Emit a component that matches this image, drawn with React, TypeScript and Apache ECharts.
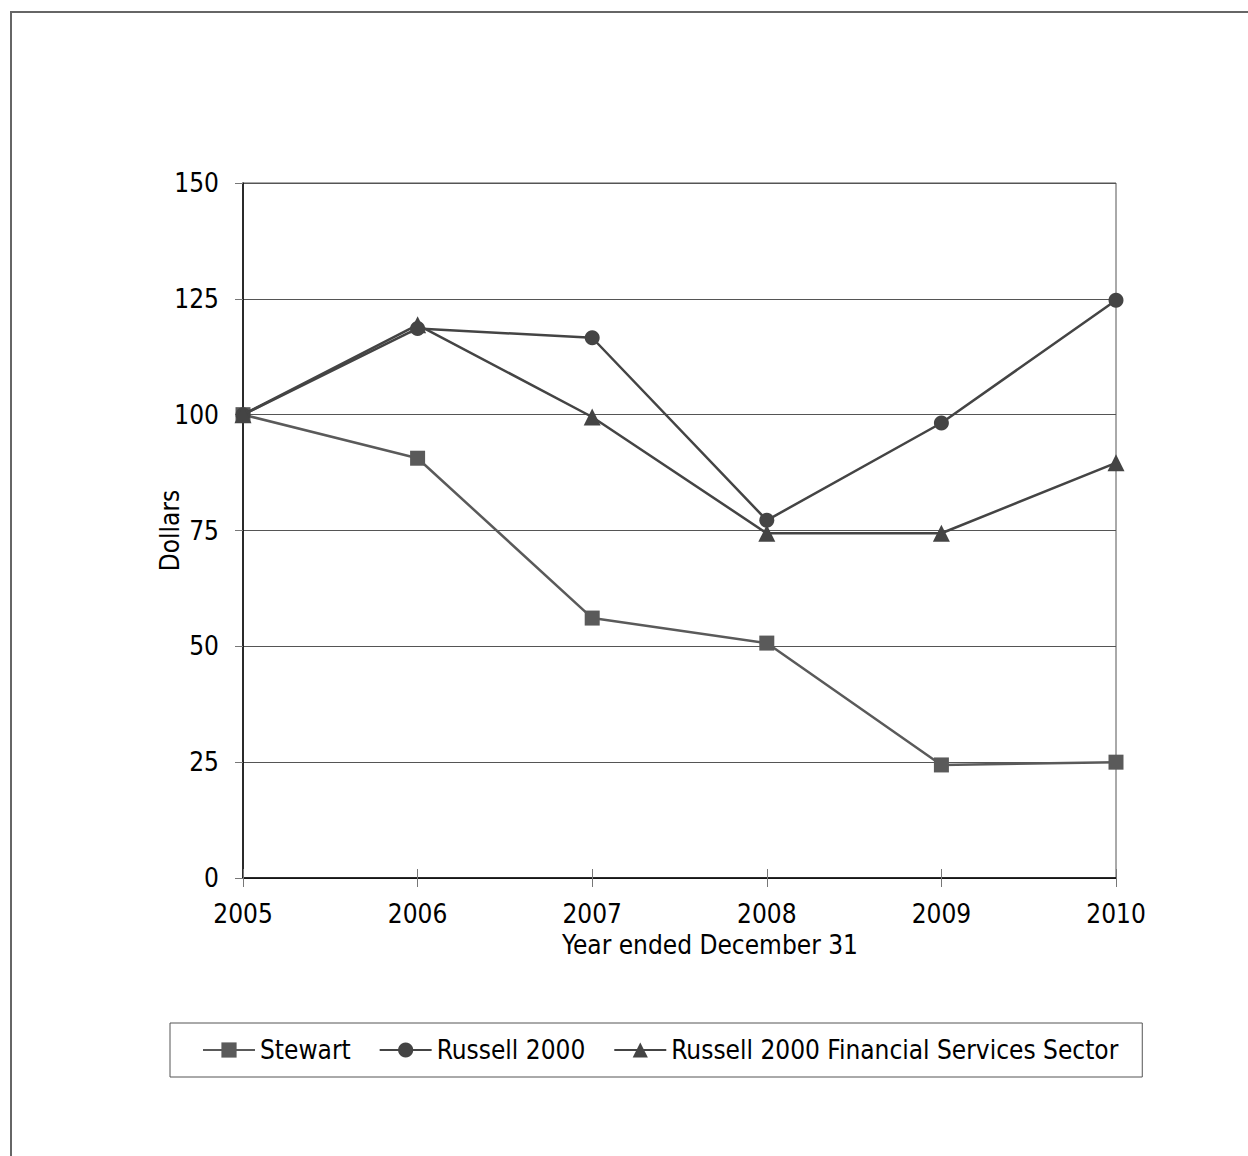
import React, { useEffect, useRef } from "react";
import * as echarts from "echarts";

const years = ["2005", "2006", "2007", "2008", "2009", "2010"];
const stewart = [100, 90.6, 56.1, 50.7, 24.4, 25.0];
const russell2000 = [100, 118.6, 116.6, 77.2, 98.2, 124.7];
const russellFinancial = [100, 119.4, 99.5, 74.4, 74.4, 89.6];
const seriesNames = ["Stewart", "Russell 2000", "Russell 2000 Financial Services Sector"];
const yTicks = { min: 0, max: 150, interval: 25 };
const xTitle = "Year ended December 31";
const yTitle = "Dollars";

const FONT = "'DejaVu Sans Condensed', 'DejaVu Sans', sans-serif";
const FS = 26;

export default function App() {
  const ref = useRef<HTMLDivElement>(null);
  useEffect(() => {
    if (!ref.current) return;
    const chart = echarts.init(ref.current, null, { renderer: "svg" });
    const lineStyle = (c: string) => ({ color: c, width: 2.5 });
    chart.setOption({
      animation: false,
      backgroundColor: "#fff",
      textStyle: { fontFamily: FONT, color: "#000" },
      grid: {
        left: 243,
        right: 132,
        top: 183,
        bottom: 278,
        show: true,
        borderColor: "#555",
        borderWidth: 1,
      },
      xAxis: [
        {
          type: "category",
          data: years,
          boundaryGap: false,
          position: "bottom",
          axisLine: { lineStyle: { color: "#000", width: 1.5 } },
          axisTick: { show: true, length: 9, lineStyle: { color: "#777", width: 1 } },
          axisLabel: { fontSize: FS, color: "#000", margin: 23, fontFamily: FONT },
          splitLine: { show: false },
        },
        {
          type: "category",
          data: years,
          boundaryGap: false,
          position: "bottom",
          axisLine: { show: false },
          axisTick: { show: true, inside: true, length: 9, lineStyle: { color: "#777", width: 1 } },
          axisLabel: { show: false },
          splitLine: { show: false },
        },
      ],
      yAxis: {
        type: "value",
        min: yTicks.min,
        max: yTicks.max,
        interval: yTicks.interval,
        name: yTitle,
        nameLocation: "middle",
        nameGap: 60,
        nameMoveOverlap: false,
        nameTextStyle: { fontSize: FS, color: "#000", fontFamily: FONT },
        axisLine: { show: true, lineStyle: { color: "#000", width: 1.5 } },
        axisTick: { show: true, length: 8, lineStyle: { color: "#777", width: 1 } },
        axisLabel: { fontSize: FS, color: "#000", margin: 24, fontFamily: FONT },
        splitLine: { show: true, lineStyle: { color: "#555", width: 1 } },
      },
      legend: {
        left: 170,
        top: 1023,
        orient: "horizontal",
        borderColor: "#555",
        borderWidth: 1,
        padding: [14, 24, 14, 32],
        itemGap: 28,
        itemWidth: 52,
        itemHeight: 19,
        textStyle: { fontSize: FS, color: "#000", fontFamily: FONT },
        data: seriesNames,
      },
      graphic: [
        {
          type: "rect",
          silent: true,
          shape: { x: 11, y: 12, width: 1400, height: 1400 },
          style: { fill: "none", stroke: "#666", lineWidth: 2 },
        },
        {
          type: "text",
          x: 710,
          y: 945,
          style: {
            text: xTitle,
            font: `${FS}px ${FONT}`,
            fill: "#000",
            textAlign: "center",
            textVerticalAlign: "middle",
          },
        },
      ],
      series: [
        {
          name: seriesNames[0],
          type: "line",
          data: stewart,
          symbol: "rect",
          symbolSize: 15,
          color: "#5a5a5a",
          lineStyle: lineStyle("#5a5a5a"),
          itemStyle: { color: "#5a5a5a" },
          z: 3,
        },
        {
          name: seriesNames[1],
          type: "line",
          data: russell2000,
          symbol: "circle",
          symbolSize: 15,
          color: "#444",
          lineStyle: lineStyle("#444"),
          itemStyle: { color: "#444" },
          z: 4,
        },
        {
          name: seriesNames[2],
          type: "line",
          data: russellFinancial,
          symbol: "triangle",
          symbolSize: 17,
          color: "#444",
          lineStyle: lineStyle("#444"),
          itemStyle: { color: "#444" },
          z: 5,
        },
      ],
    });
    return () => chart.dispose();
  }, []);
  return (
    <div
      ref={ref}
      style={{ position: "absolute", left: 0, top: 0, width: 1248, height: 1156 }}
    />
  );
}
